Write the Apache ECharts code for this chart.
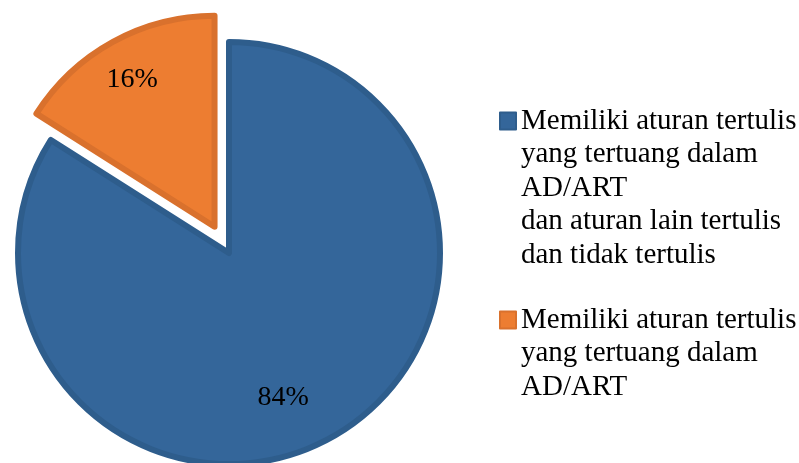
<!DOCTYPE html>
<html>
<head>
<meta charset="utf-8">
<script src="https://cdn.jsdelivr.net/npm/echarts@6/dist/echarts.min.js"></script>
<style>
  html, body { margin: 0; padding: 0; background: #fff; }
  #chart { width: 799px; height: 463px; }
</style>
</head>
<body>
<div id="chart"></div>
<script>
(function() {
  var categories = [
    'Memiliki aturan tertulis\nyang tertuang dalam\nAD/ART\ndan aturan lain tertulis\ndan tidak tertulis',
    'Memiliki aturan tertulis\nyang tertuang dalam\nAD/ART'
  ];
  var values = [84, 16];
  var fills = ['#34669a', '#ed7d31'];
  var borders = ['#2e5d8c', '#d9712d'];

  var lineH = 33.5;
  var font = '"Liberation Serif", "Times New Roman", serif';

  var chart = echarts.init(document.getElementById('chart'), null, { renderer: 'canvas' });

  // legend text is centred on its icon: blank lines above push line one level with the icon
  function legendFor(i, iconY) {
    var n = categories[i].split('\n').length;
    return {
      data: [categories[i]],
      orient: 'vertical',
      left: 499,
      top: iconY - (2 * n - 1) * lineH / 2,
      padding: 0,
      itemWidth: 16,
      itemHeight: 17,
      icon: 'rect',
      selectedMode: false,
      formatter: function(name) {
        return new Array(n).join('\n') + name;
      },
      textStyle: { color: '#000', fontSize: 29, fontFamily: font, lineHeight: lineH }
    };
  }

  chart.setOption({
    animation: false,
    legend: [legendFor(0, 121), legendFor(1, 320)],
    series: [{
      type: 'pie',
      center: [229, 253],
      radius: 211,
      startAngle: 90,
      clockwise: true,
      selectedMode: 'single',
      selectedOffset: 30,
      emphasis: { disabled: true },
      label: {
        show: true,
        position: 'inside',
        formatter: '{c}%',
        color: '#000',
        fontSize: 28,
        fontFamily: font
      },
      labelLayout: function(p) {
        return p.dataIndex === 0 ? { dx: 2, dy: 50 } : { dx: -30, dy: -52 };
      },
      data: values.map(function(v, i) {
        return {
          name: categories[i],
          value: v,
          selected: i === 1,
          itemStyle: { color: fills[i], borderColor: borders[i], borderWidth: 6 }
        };
      })
    }]
  });

  window.addEventListener('resize', function() { chart.resize(); });
})();
</script>
</body>
</html>
